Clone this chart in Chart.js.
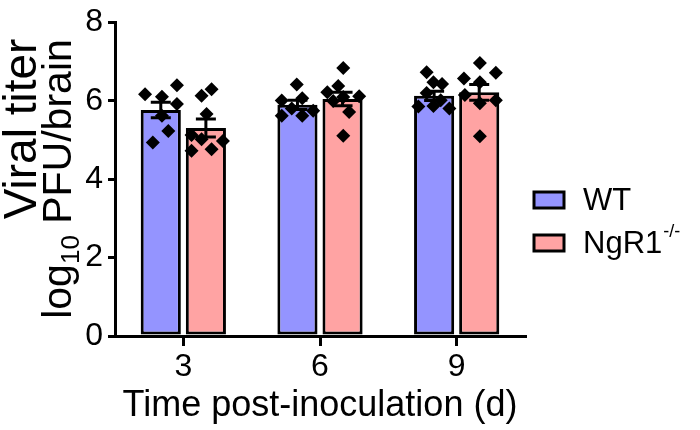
<!DOCTYPE html>
<html>
<head>
<meta charset="utf-8">
<script src="https://cdn.jsdelivr.net/npm/chart.js@4"></script>
<style>
  html, body { margin: 0; background: #fff; }
</style>
</head>
<body>
<canvas id="myChart" width="700" height="430"></canvas>
<script>
// days post-inoculation
const days = ['3', '6', '9'];

// bar heights (mean) and SEM
const wtMean = [5.77, 5.90, 6.13];
const wtSem = [0.20, 0.12, 0.12];
const koMean = [5.31, 6.05, 6.22];
const koSem = [0.23, 0.17, 0.20];

// individual animals (x = day with jitter, y = log10 PFU/brain)
const wtX = [2.16, 2.86, 2.53, 2.86, 2.67, 2.33, 2.53,
             5.49, 5.16, 5.61, 5.16, 5.61, 5.85, 5.38,
             8.34, 8.49, 8.68, 8.34, 8.16, 8.49, 8.84, 8.65];
const wtY = [6.17, 6.40, 6.11, 5.92, 5.23, 4.94, 5.62,
             6.42, 6.01, 6.07, 5.62, 5.62, 5.75, 5.81,
             6.73, 6.48, 6.43, 6.20, 5.86, 5.87, 5.81, 6.02];
const koX = [3.40, 3.62, 3.51, 3.18, 3.40, 3.87, 3.62, 3.18,
             6.51, 6.40, 6.16, 6.86, 6.51, 6.29, 6.64, 6.51,
             9.51, 9.86, 9.16, 9.51, 9.18, 9.86, 9.51, 9.51];
const koY = [6.13, 6.30, 5.67, 5.13, 5.02, 4.98, 4.77, 4.73,
             6.84, 6.38, 6.22, 6.12, 6.10, 6.00, 5.72, 5.11,
             6.97, 6.72, 6.57, 6.48, 6.15, 6.02, 5.94, 5.10];

const yTicks = [0, 2, 4, 6, 8];

const wtColor = '#9494FF';
const koColor = '#FFA3A3';
const fontFamily = 'Arial, "Liberation Sans", sans-serif';

Chart.defaults.font.family = fontFamily;
Chart.defaults.color = '#000';

// day -> position on the category axis (3 -> 0, 6 -> 1, 9 -> 2)
function dayToIndex(d) {
    return (d - Number(days[0])) / (Number(days[1]) - Number(days[0]));
}

// mean +/- SEM whiskers
const errorBars = {
    id: 'errorBars',
    afterDatasetDraw(chart, args) {
        if (args.index !== 0) return;
        const ctx = chart.ctx;
        const y = chart.scales.y;
        [[0, wtMean, wtSem], [1, koMean, koSem]].forEach(([di, mean, sem]) => {
            chart.getDatasetMeta(di).data.forEach((bar, i) => {
                const top = y.getPixelForValue(mean[i] + sem[i]);
                const bot = y.getPixelForValue(mean[i] - sem[i]);
                const cap = 10;
                ctx.save();
                ctx.strokeStyle = '#000';
                ctx.lineWidth = 3;
                ctx.beginPath();
                ctx.moveTo(bar.x, top); ctx.lineTo(bar.x, bot);
                ctx.moveTo(bar.x - cap, top); ctx.lineTo(bar.x + cap, top);
                ctx.moveTo(bar.x - cap, bot); ctx.lineTo(bar.x + cap, bot);
                ctx.stroke();
                ctx.restore();
            });
        });
    }
};

// y title with subscript, legend with superscript
const textBits = {
    id: 'textBits',
    afterDraw(chart) {
        const ctx = chart.ctx;
        const area = chart.chartArea;
        ctx.save();
        ctx.fillStyle = '#000';
        ctx.textBaseline = 'alphabetic';

        // y axis title, rotated
        const big = 'px ' + fontFamily;
        ctx.save();
        ctx.translate(36, 129);
        ctx.rotate(-Math.PI / 2);
        ctx.font = '46' + big;
        const w1 = ctx.measureText('Viral titer').width;
        ctx.fillText('Viral titer', -w1 / 2, 0);
        ctx.restore();

        ctx.save();
        ctx.translate(71, 179);
        ctx.rotate(-Math.PI / 2);
        ctx.font = '41' + big;
        const wLog = ctx.measureText('log').width;
        const wRest = ctx.measureText(' PFU/brain').width;
        ctx.font = '26' + big;
        const wSub = ctx.measureText('10').width;
        let x = -(wLog + wSub + wRest) / 2;
        ctx.font = '41' + big;
        ctx.fillText('log', x, 0);
        x += wLog;
        ctx.font = '26' + big;
        ctx.fillText('10', x, 8);
        x += wSub;
        ctx.font = '41' + big;
        ctx.fillText(' PFU/brain', x, 0);
        ctx.restore();

        // legend
        const items = [
            { color: wtColor, label: 'WT', sup: '', cy: 200 },
            { color: koColor, label: 'NgR1', sup: '-/-', cy: 243 }
        ];
        const bx = area.right + 9;
        items.forEach(it => {
            ctx.fillStyle = it.color;
            ctx.fillRect(bx, it.cy - 8, 30, 16);
            ctx.strokeStyle = '#000';
            ctx.lineWidth = 3;
            ctx.strokeRect(bx, it.cy - 8, 30, 16);
            ctx.fillStyle = '#000';
            ctx.font = '31' + big;
            ctx.textBaseline = 'middle';
            ctx.fillText(it.label, bx + 49, it.cy + 1);
            if (it.sup) {
                const lw = ctx.measureText(it.label).width;
                ctx.font = '18' + big;
                ctx.fillText(it.sup, bx + 50 + lw, it.cy - 11);
            }
        });
        ctx.restore();
    }
};

const ctx = document.getElementById('myChart').getContext('2d');

const chart = new Chart(ctx, {
    type: 'bar',
    data: {
        labels: days,
        datasets: [
            {
                label: 'WT',
                data: wtMean,
                backgroundColor: wtColor,
                borderColor: '#000',
                borderWidth: 3,
                borderSkipped: false,
                categoryPercentage: 0.66,
                barPercentage: 0.89,
                order: 2
            },
            {
                label: 'NgR1-/-',
                data: koMean,
                backgroundColor: koColor,
                borderColor: '#000',
                borderWidth: 3,
                borderSkipped: false,
                categoryPercentage: 0.66,
                barPercentage: 0.89,
                order: 2
            },
            {
                type: 'scatter',
                label: 'WT points',
                parsing: false,
                data: wtX.map((x, i) => ({ x: dayToIndex(x), y: wtY[i] })),
                pointStyle: 'rectRot',
                radius: 7,
                backgroundColor: '#000',
                borderWidth: 0,
                order: 1
            },
            {
                type: 'scatter',
                label: 'NgR1 points',
                parsing: false,
                data: koX.map((x, i) => ({ x: dayToIndex(x), y: koY[i] })),
                pointStyle: 'rectRot',
                radius: 7,
                backgroundColor: '#000',
                borderWidth: 0,
                order: 1
            }
        ]
    },
    options: {
        responsive: false,
        animation: false,
        events: [],
        layout: { padding: { left: 0, right: 175, top: 18, bottom: 0 } },
        plugins: {
            legend: { display: false },
            tooltip: { enabled: false }
        },
        scales: {
            x: {
                type: 'category',
                offset: true,
                grid: { offset: false, drawOnChartArea: false, drawTicks: true, tickLength: 10, color: '#000', lineWidth: 3 },
                border: { color: '#000', width: 3 },
                ticks: { font: { size: 32 }, padding: 2, color: '#000' },
                title: {
                    display: true,
                    text: 'Time post-inoculation (d)',
                    font: { size: 36 },
                    padding: { top: 0, bottom: 2 },
                    color: '#000'
                },
                afterFit(scale) { scale.height = 94; }
            },
            y: {
                min: 0,
                max: 8,
                afterBuildTicks(scale) { scale.ticks = yTicks.map(v => ({ value: v })); },
                grid: { drawOnChartArea: false, drawTicks: true, tickLength: 7, color: '#000', lineWidth: 3 },
                border: { color: '#000', width: 3 },
                ticks: { font: { size: 32, lineHeight: 1.1 }, padding: 5, color: '#000' },
                afterFit(scale) { scale.width = 115; }
            }
        }
    },
    plugins: [errorBars, textBits]
});
</script>
</body>
</html>
